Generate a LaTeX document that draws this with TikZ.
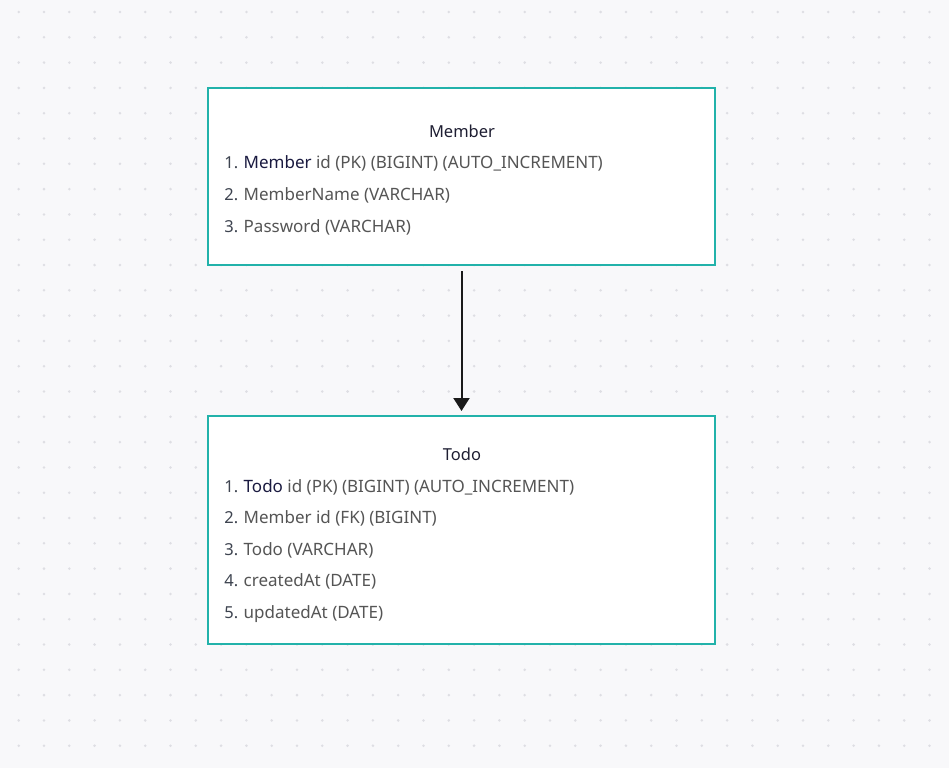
\documentclass[tikz,border=0pt]{standalone}
\usepackage{fontspec}
\setmainfont{Noto Sans}
\usetikzlibrary{arrows.meta}
\definecolor{bg}{HTML}{F8F8FA}
\definecolor{dotc}{HTML}{DEDEE3}
\definecolor{teal}{HTML}{22B2AA}
\definecolor{titlec}{HTML}{1E1E32}
\definecolor{numc}{HTML}{3E4450}
\definecolor{txtc}{HTML}{555555}
\definecolor{keyc}{HTML}{1A1A40}
\definecolor{arrc}{HTML}{1A1A1A}
\begin{document}
\begin{tikzpicture}[x=1pt,y=-1pt,
  entity/.style={draw=teal,line width=2pt,fill=white},
  title/.style={font=\fontsize{16.5}{18}\selectfont,text=titlec,anchor=base},
  num/.style={font=\fontsize{16.5}{18}\selectfont,text=numc,anchor=base east,inner sep=0pt},
  row/.style={font=\fontsize{17}{19}\selectfont,text=txtc,anchor=base west,inner sep=0pt},
  conn/.style={draw=arrc,line width=2pt,-{Triangle[length=13pt,width=16pt]}}]
\fill[bg] (0,0) rectangle (949,768);
\useasboundingbox (0,0) rectangle (949,768);
\foreach \i in {0,...,37}{\foreach \j in {0,...,30}{
  \fill[dotc] (18.7+25.3*\i,12+25.3*\j) circle (1.4pt);}}
% Member
\node[entity,minimum width=507pt,minimum height=177pt,inner sep=0pt] (member) at (461.5,176.5) {};
\node[title] (mt) at (462,137) {Member};
\node[num] (m1n) at (238.5,168) {1.};
\node[row] (m1) at (243.5,168) {\textcolor{keyc}{Member} id (PK) (BIGINT) (AUTO\_INCREMENT)};
\node[num] (m2n) at (238.5,200) {2.};
\node[row] (m2) at (243.5,200) {MemberName (VARCHAR)};
\node[num] (m3n) at (238.5,232) {3.};
\node[row] (m3) at (243.5,232) {Password (VARCHAR)};
% Todo
\node[entity,minimum width=507pt,minimum height=228pt,inner sep=0pt] (todo) at (461.5,530) {};
\node[title] (tt) at (462,460) {Todo};
\node[num] (t1n) at (238.5,492) {1.};
\node[row] (t1) at (243.5,492) {\textcolor{keyc}{Todo} id (PK) (BIGINT) (AUTO\_INCREMENT)};
\node[num] (t2n) at (238.5,523) {2.};
\node[row] (t2) at (243.5,523) {Member id (FK) (BIGINT)};
\node[num] (t3n) at (238.5,555) {3.};
\node[row] (t3) at (243.5,555) {Todo (VARCHAR)};
\node[num] (t4n) at (238.5,586) {4.};
\node[row] (t4) at (243.5,586) {createdAt (DATE)};
\node[num] (t5n) at (238.5,618) {5.};
\node[row] (t5) at (243.5,618) {updatedAt (DATE)};
\coordinate (a1) at ([yshift=-5pt]member.south);
\coordinate (a2) at ([yshift=4pt]todo.north);
\draw[conn] (a1) -- (a2);
\end{tikzpicture}
\end{document}
